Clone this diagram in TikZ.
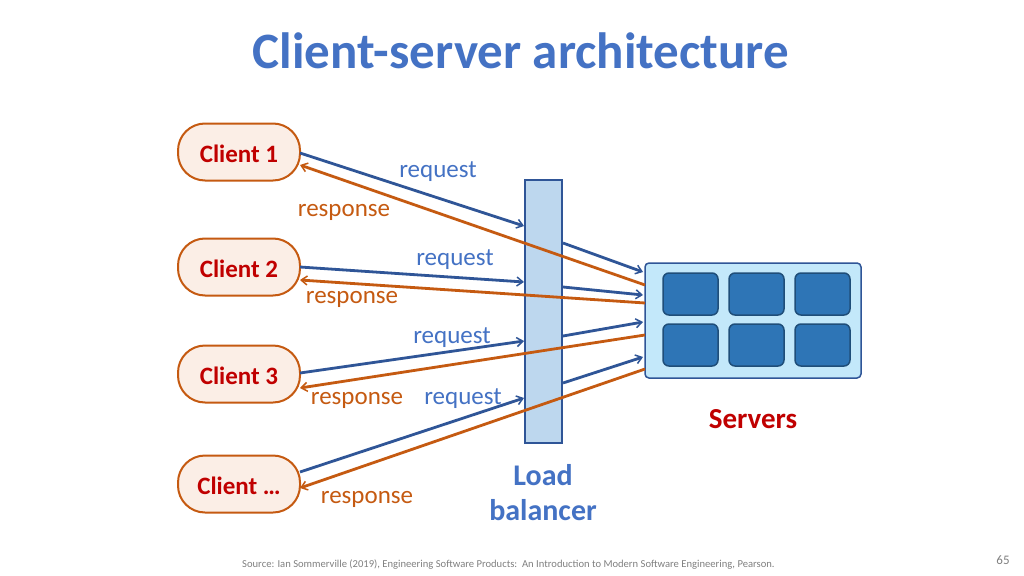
\documentclass[tikz,border=0pt]{standalone}
\usepackage{fontspec}
\setmainfont{Carlito}
\usetikzlibrary{arrows.meta}
\definecolor{ttl}{HTML}{4472C4}
\definecolor{req}{HTML}{2F5597}
\definecolor{resp}{HTML}{C55A11}
\definecolor{dred}{HTML}{C00000}
\definecolor{clfill}{HTML}{FBEEE6}
\definecolor{lbfill}{HTML}{BDD7EE}
\definecolor{srvfill}{HTML}{C3E8FA}
\definecolor{cellfill}{HTML}{2E75B6}
\definecolor{cellborder}{HTML}{1F4E79}
\definecolor{foot}{HTML}{808080}
\begin{document}
\begin{tikzpicture}[x=1pt,y=-1pt,
  client/.style={draw=resp, line width=2pt, fill=clfill, rounded corners=27pt,
    minimum width=122pt, minimum height=57pt, inner sep=0pt, text height=20pt, text depth=0pt,
    text=dred, font=\fontsize{25}{30}\selectfont\bfseries},
  cell/.style={draw=cellborder, line width=1.5pt, fill=cellfill, rounded corners=6pt,
    minimum width=55pt, minimum height=42pt, inner sep=0pt},
  reqline/.style={draw=req, line width=2.8pt, -{Straight Barb[length=6pt,width=9pt,line width=1.5pt]}},
  respline/.style={draw=resp, line width=2.8pt, -{Straight Barb[length=6pt,width=9pt,line width=1.5pt]}},
  reqlbl/.style={text=ttl, font=\fontsize{25}{30}\selectfont, inner sep=0pt},
  resplbl/.style={text=resp, font=\fontsize{25}{30}\selectfont, inner sep=0pt}
]
\useasboundingbox (0,0) rectangle (1024,575);
\fill[white] (0,0) rectangle (1024,575);

\node[text=ttl, font=\fontsize{51}{60}\selectfont\bfseries] (title) at (521,51) {Client-server architecture};

% clients
\node[client] (c1) at (239,152) {Client 1};
\node[client] (c2) at (239,267) {Client 2};
\node[client] (c3) at (239,374) {Client 3};
\node[client] (c4) at (239,484) {Client …};

% load balancer
\node[draw=req, line width=1.5pt, fill=lbfill, minimum width=37pt, minimum height=263pt, inner sep=0pt] (lb) at (543.5,311.5) {};

% servers
\node[draw=req, line width=1.5pt, fill=srvfill, rounded corners=4pt, minimum width=216pt, minimum height=115pt, inner sep=0pt] (srv) at (753,320.5) {};
\node[cell] (s1) at (690.5,294) {};
\node[cell] (s2) at (756.5,294) {};
\node[cell] (s3) at (822.5,294) {};
\node[cell] (s4) at (690.5,345) {};
\node[cell] (s5) at (756.5,345) {};
\node[cell] (s6) at (822.5,345) {};

\node[text=dred, font=\fontsize{29}{34}\selectfont\bfseries] (srvlbl) at (753,419) {Servers};
\node[text=ttl, font=\fontsize{30}{35}\selectfont\bfseries, align=center] (lblbl) at (543,493) {Load\\balancer};

% endpoints
\coordinate (q1a) at (300,153); \coordinate (q1b) at (524,226);
\coordinate (q2a) at (300,267); \coordinate (q2b) at (524,282);
\coordinate (q3a) at (300,373); \coordinate (q3b) at (524,341);
\coordinate (q4a) at (300,472); \coordinate (q4b) at (524,398);
\coordinate (l1a) at (563,243); \coordinate (l1b) at (643,272);
\coordinate (l2a) at (563,287); \coordinate (l2b) at (643,295);
\coordinate (l3a) at (563,336); \coordinate (l3b) at (643,322);
\coordinate (l4a) at (563,383); \coordinate (l4b) at (643,357);
\coordinate (p1a) at (645,285); \coordinate (p1b) at (300,165);
\coordinate (p2a) at (645,303); \coordinate (p2b) at (300,280);
\coordinate (p3a) at (645,335); \coordinate (p3b) at (300,388);
\coordinate (p4a) at (645,369); \coordinate (p4b) at (300,488);

\draw[reqline] (q1a) -- (q1b);
\draw[reqline] (q2a) -- (q2b);
\draw[reqline] (q3a) -- (q3b);
\draw[reqline] (q4a) -- (q4b);
\draw[reqline] (l1a) -- (l1b);
\draw[reqline] (l2a) -- (l2b);
\draw[reqline] (l3a) -- (l3b);
\draw[reqline] (l4a) -- (l4b);
\draw[respline] (p1a) -- (p1b);
\draw[respline] (p2a) -- (p2b);
\draw[respline] (p3a) -- (p3b);
\draw[respline] (p4a) -- (p4b);

% labels
\node[reqlbl] (rq1) at (438,172) {request};
\node[reqlbl] (rq2) at (455,260) {request};
\node[reqlbl] (rq3) at (452,338) {request};
\node[reqlbl] (rq4) at (463,399) {request};
\node[resplbl] (rs1) at (344,212) {response};
\node[resplbl] (rs2) at (352,299) {response};
\node[resplbl] (rs3) at (357,400) {response};
\node[resplbl] (rs4) at (367,499) {response};

\node[text=foot, font=\fontsize{10.6}{13}\selectfont, anchor=west, inner sep=0pt] (src) at (242,565) {Source: Ian Sommerville (2019), Engineering Software Products:\ \ An Introduction to Modern Software Engineering, Pearson.};
\node[text=foot, font=\fontsize{13}{15}\selectfont, inner sep=0pt] (pg) at (1003,560) {65};
\end{tikzpicture}
\end{document}
